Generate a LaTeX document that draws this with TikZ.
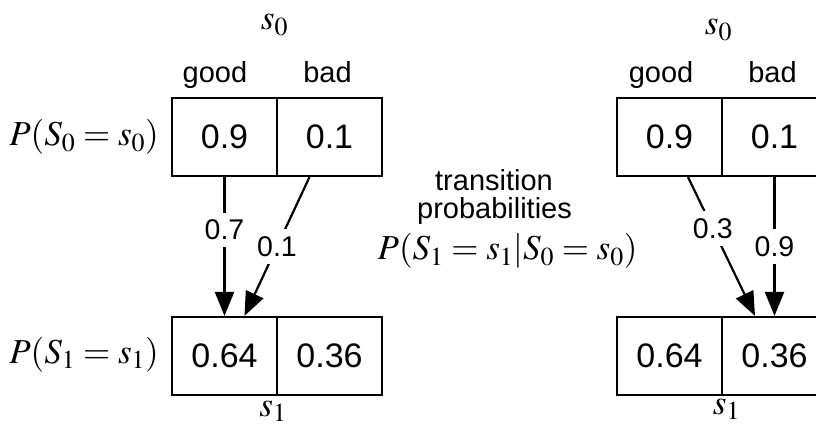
\documentclass[tikz,border=0pt]{standalone}
\usepackage{mathptmx}
\usepackage[no-math]{fontspec}
\setmainfont{Liberation Sans}
\usetikzlibrary{arrows.meta,calc}
\begin{document}
\begin{tikzpicture}[x=1pt,y=-1pt,
  cell/.style={draw,line width=2.2pt,minimum width=105pt,minimum height=78pt,inner sep=0pt,font=\fontsize{34}{40}\selectfont},
  lbl/.style={font=\fontsize{29}{34}\selectfont,anchor=base,inner sep=0pt},
  mth/.style={font=\fontsize{35}{42}\selectfont,anchor=base,inner sep=0pt},
  arr/.style={line width=2.2pt,-{Triangle[length=24pt,width=19pt]}},
  plab/.style={font=\fontsize{28.5}{34}\selectfont,fill=white,inner xsep=3pt,inner ysep=7pt}]
\useasboundingbox (0,0) rectangle (816,427);
\clip (0,0) rectangle (816,427);
% left diagram
\node[cell] (g0) at (224.5,137) {0.9};
\node[cell] (b0) at (329.5,137) {0.1};
\node[cell] (g1) at (224.5,356) {0.64};
\node[cell] (b1) at (329.5,356) {0.36};
\node[mth] (s0l) at (274.5,30) {$s_0$};
\node[mth] (s1l) at (273,416) {$s_1$};
\node[lbl] (goodl) at (215,83) {good};
\node[lbl] (badl) at (327.5,83) {bad};
\node[mth] (p0) at (84,146) {$P(S_0=s_0)$};
\node[mth] (p1) at (84,363) {$P(S_1=s_1)$};
\draw[arr] (g0.south) -- node[plab,pos=.38] {0.7} (g1.north);
\draw[arr] ($(b0.south)+(-20,0)$) -- node[plab,pos=.5] {0.1} ($(g1.north)+(20,0)$);
% middle text
\node[lbl] (t1) at (494,191) {transition};
\node[lbl] (t2) at (494.5,219) {probabilities};
\node[mth] (t3) at (507.5,260) {$P(S_1=s_1|S_0=s_0)$};
% right diagram
\node[cell] (g0r) at (669.5,137) {0.9};
\node[cell] (b0r) at (774.5,137) {0.1};
\node[cell] (g1r) at (669.5,356) {0.64};
\node[cell] (b1r) at (774.5,356) {0.36};
\node[mth] (s0r) at (718.5,35) {$s_0$};
\node[mth] (s1r) at (726.5,414) {$s_1$};
\node[lbl] (goodr) at (661,83) {good};
\node[lbl] (badr) at (772.5,83) {bad};
\draw[arr] ($(g0r.south)+(18.5,0)$) -- node[plab,pos=.37] {0.3} ($(b1r.north)+(-19.5,0)$);
\draw[arr] (b0r.south) -- node[plab,pos=.5] {0.9} (b1r.north);
\end{tikzpicture}
\end{document}
